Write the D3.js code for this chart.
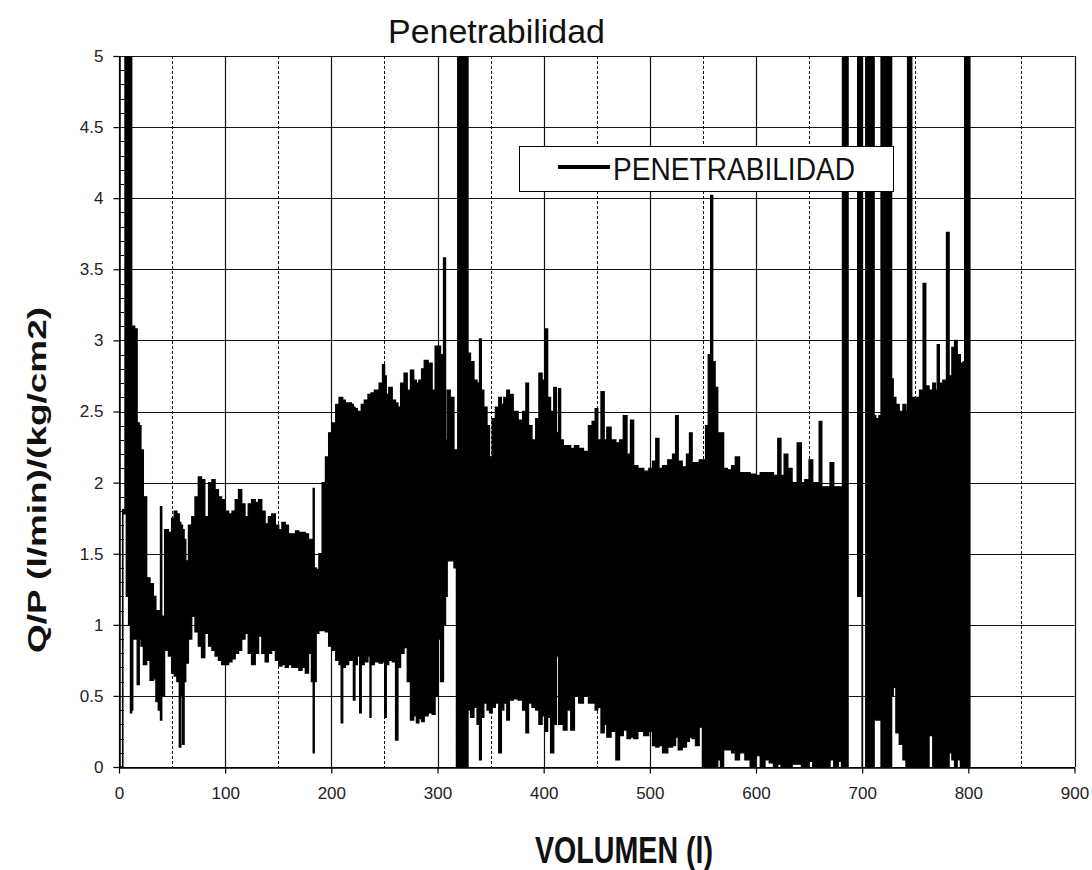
<!DOCTYPE html>
<html>
<head>
<meta charset="utf-8">
<script src="https://cdn.jsdelivr.net/npm/d3@7"></script>
<style>
  body { margin: 0; background: #fff; }
  svg { display: block; }
  text { font-family: "Liberation Sans", Arial, sans-serif; }
</style>
</head>
<body>
<svg id="chart" width="1092" height="870"></svg>
<script>
// ---------------- DATA (envelope of the dense trace) ----------------
const volumen = [
  0.5,3.2,3.5,3.9,5.5,5.7,8,10,11.5,12.5,
  13.5,16,18.2,20,21.4,24.5,27.7,30.8,34,35.5,
  38.5,39.6,41,44.9,48.1,51,53,56,57.5,59,
  60.7,62,63.8,67,70.1,73,76.4,79,82.7,86,
  89,92,95.3,98,101.6,105,107.9,111,114.2,117,
  120.4,123,126.7,130,133,136,139.3,142,145.6,149,
  151.9,155,158.2,161,164.5,168,170.8,174,177,180,
  182.5,183.3,184.5,187,189.6,193,195.9,199,202.2,206,
  208.5,210,211.5,214.8,
  217.9,220,221.5,223,226,227.4,229,233,236,236.8,
  238,243,247,249.4,251,252.5,255.7,259,262,263.5,
  267,270,273,276,279.2,281,284,286,289,293.4,
  296.5,299,301.3,304.4,306.9,308.3,310,314,317,318.6,
  319.5,328,329.5,332.7,336,338.5,340.6,342,345.3,348,
  350,353,356,359.4,361,364,366.5,369,373.6,378.3,
  382,384.5,387,391,394,397,400,402.5,405,408,
  411,
  413,415,417,420,424,427,431,435,440,444.3,
  447,450,452,456,458,461,466,470,473,477,
  480,483.5,486,491.5,497,501,504,507.2,510,514,
  519.8,523,525.5,528,533,536,538.7,541,545,548,
  551,554,556,558.5,560,563,565,568,571,575,
  579,582,587,592,597,602,606,611,614,619,
  622,625,628,632,636,641.5,644,648,651.9,655,
  658,661,663,668,671.5,675,680,681,
  681.8,686.5,687,695.5,696,699.8,700.1,700.4,703.2,703.5,
  711,711.6,714,717.5,718,727.5,728,730.5,733,736.8,
  740,742.5,743,746.5,747,752,756,758.8,761,765,
  768,770,771.4,774,778,780.8,783,786,788,791,
  794,796.3,796.7,801.5
];
const qpMax = [
  0,0,1.81,1.81,1.81,5.5,5.5,5.5,5.5,3.1,
  3.1,3.08,2.42,2.4,2.23,1.9,1.33,1.29,1.2,1.1,
  1.1,1.83,1.06,1.67,1.65,1.75,1.8,1.78,1.72,1.7,
  1.67,1.6,1.45,1.7,1.76,1.9,2.04,2.02,1.76,2.0,
  2.02,1.95,1.9,1.88,1.8,1.78,1.8,1.88,1.95,1.85,
  1.76,1.85,1.88,1.86,1.88,1.8,1.71,1.76,1.78,1.7,
  1.67,1.72,1.7,1.64,1.64,1.66,1.65,1.65,1.64,1.6,
  1.6,1.96,1.4,1.39,1.5,2.0,2.18,2.35,2.42,2.55,
  2.6,2.6,2.58,2.56,
  2.56,2.55,2.53,2.52,2.5,2.5,2.55,2.58,2.62,2.62,
  2.63,2.65,2.7,2.83,2.75,2.62,2.67,2.58,2.56,2.53,
  2.7,2.77,2.65,2.79,2.72,2.7,2.72,2.8,2.86,2.84,
  2.65,2.96,2.96,2.9,3.58,2.3,2.65,2.6,2.23,2.2,
  5.5,5.5,2.91,2.85,2.72,2.7,3.01,2.65,2.53,2.4,
  2.18,2.45,2.53,2.6,2.55,2.6,2.65,2.62,2.5,2.44,
  2.5,2.7,2.4,2.3,2.45,2.77,2.72,3.08,2.6,2.5,
  2.67,
  2.35,2.66,2.3,2.26,2.26,2.24,2.26,2.24,2.22,2.4,
  2.43,2.52,2.3,2.64,2.3,2.39,2.3,2.28,2.3,2.47,
  2.2,2.44,2.12,2.1,2.08,2.1,2.15,2.31,2.1,2.12,
  2.16,2.2,2.47,2.15,2.11,2.2,2.35,2.14,2.14,2.16,
  2.16,2.4,2.9,4.02,2.85,2.67,2.35,2.35,2.1,2.09,
  2.12,2.18,2.07,2.07,2.06,2.05,2.07,2.07,2.07,2.05,
  2.31,2.05,2.2,2.1,2.0,2.28,2.0,2.02,2.16,2.0,
  2.0,2.43,1.97,1.97,2.14,1.97,1.97,1.97,
  5.5,5.5,6,6,5.5,5.5,5.5,6,6,5.5,
  5.5,2.47,2.45,2.47,5.5,5.5,2.73,2.6,2.55,2.5,
  2.55,2.5,5.5,5.5,2.6,2.6,2.65,3.4,2.68,2.65,
  2.7,2.65,2.97,2.7,2.72,3.76,2.75,2.95,3.0,2.9,
  2.84,2.85,5.5,5.5
];
const qpMin = [
  0,0,0,1.78,1.78,1.8,1.2,1.0,0.38,0.4,
  0.9,0.9,0.58,0.9,0.85,0.72,0.75,0.61,0.62,0.46,
  0.4,0.33,0.5,0.82,0.78,0.66,0.64,0.6,0.14,0.5,
  0.16,0.6,0.73,0.9,1.06,0.95,0.85,0.77,0.94,0.85,
  0.82,0.78,0.75,0.72,0.72,0.74,0.76,0.8,0.82,0.9,
  0.94,0.8,0.72,0.8,0.92,0.8,0.74,0.8,0.82,0.75,
  0.71,0.72,0.7,0.72,0.7,0.7,0.68,0.7,0.66,0.8,
  0.6,0.1,0.6,0.94,0.96,0.96,0.95,0.85,0.82,0.75,
  0.72,0.31,0.7,0.72,
  0.75,0.75,0.47,0.72,0.78,0.38,0.72,0.74,0.78,0.35,
  0.72,0.74,0.73,0.74,0.35,0.72,0.75,0.74,0.19,0.7,
  0.8,0.84,0.6,0.33,0.36,0.31,0.34,0.32,0.36,0.38,
  0.37,0.5,0.9,0.6,1.0,1.2,1.45,1.45,1.4,0,
  0,0,0.4,0.35,0.42,0.3,0.05,0.35,0.45,0.4,
  0.38,0.42,0.45,0.1,0.4,0.45,0.33,0.47,0.48,0.47,
  0.4,0.24,0.45,0.42,0.4,0.3,0.36,0.25,0.35,0.1,
  0.3,
  0.78,0.3,0.3,0.26,0.4,0.26,0.5,0.45,0.5,0.45,
  0.45,0.4,0.42,0.24,0.3,0.21,0.25,0.05,0.22,0.26,
  0.2,0.21,0.2,0.25,0.22,0.25,0.15,0.14,0.15,0.1,
  0.14,0.15,0.21,0.12,0.14,0.18,0.21,0.2,0.15,0.28,
  0,0,0,0,0,0,0.05,0,0.12,0.12,
  0.1,0.05,0.1,0.05,0,0.08,0,0.05,0.03,0,
  0.02,0,0,0,0.02,0.02,0,0,0.04,0,
  0,0,0,0,0.05,0,0.04,0,
  0,0,6,6,1.2,1.2,0,6,6,0,
  0,0.34,0.33,0.33,0,0,0.5,0.56,0.24,0.16,
  0.05,0,0,0,0,0,0,0,0,0.22,
  0,0,0,0,0,0,0.1,0.05,0,0.05,
  0,0,0,0
];

const xTicks = [0,100,200,300,400,500,600,700,800,900];
const xHalfTicks = [50,150,250,350,450,550,650,750,850];
const yTicks = [0,0.5,1,1.5,2,2.5,3,3.5,4,4.5,5];
const yTickLabels = ["0","0.5","1","1.5","2","2.5","3","3.5","4","4.5","5"];
const titleText = "Penetrabilidad";
const seriesName = "PENETRABILIDAD";
const xTitle = "VOLUMEN (l)";
const yTitle = "Q/P  (l/min)/(kg/cm2)";

// ---------------- CHART ----------------
const svg = d3.select("#chart");
const x = d3.scaleLinear().domain([0, 900]).range([119, 1074.5]);
const y = d3.scaleLinear().domain([0, 5]).range([767, 56]);
const crisp = v => Math.round(v) + 0.5;

svg.append("rect").attr("width", 1092).attr("height", 870).attr("fill", "#fff");

// grid
const grid = svg.append("g");
grid.selectAll("line.h").data(yTicks).join("line")
  .attr("x1", x(0)).attr("x2", x(900))
  .attr("y1", d => crisp(y(d))).attr("y2", d => crisp(y(d)))
  .attr("stroke", "#111").attr("stroke-width", 1.2);
grid.selectAll("line.v").data(xTicks).join("line")
  .attr("x1", d => crisp(x(d))).attr("x2", d => crisp(x(d)))
  .attr("y1", y(5)).attr("y2", y(0))
  .attr("stroke", "#111").attr("stroke-width", 1.2);
grid.selectAll("line.d").data(xHalfTicks).join("line")
  .attr("x1", d => crisp(x(d))).attr("x2", d => crisp(x(d)))
  .attr("y1", y(5)).attr("y2", y(0))
  .attr("stroke", "#111").attr("stroke-width", 1).attr("stroke-dasharray", "3,2");

// data
svg.append("clipPath").attr("id", "plotclip").append("rect")
  .attr("x", x(0)).attr("y", y(5)).attr("width", x(900) - x(0)).attr("height", y(0) - y(5));

const idx = d3.range(volumen.length);
const area = d3.area()
  .x(i => x(volumen[i]))
  .y0(i => y(qpMin[i]))
  .y1(i => y(qpMax[i]))
  .curve(d3.curveStep);
svg.append("path")
  .attr("clip-path", "url(#plotclip)")
  .attr("d", area(idx))
  .attr("fill", "#000").attr("stroke", "#000").attr("stroke-width", 1.3)
  .attr("stroke-linejoin", "miter");

// axes
const yAxis = d3.axisLeft(y).tickValues(yTicks).tickSize(6).tickSizeOuter(0).tickPadding(10)
  .tickFormat((d, i) => yTickLabels[i]);
const gy = svg.append("g").attr("transform", `translate(${crisp(x(0))},0)`).call(yAxis);
const xAxis = d3.axisBottom(x).tickValues(xTicks).tickSize(6).tickSizeOuter(0).tickPadding(13)
  .tickFormat(d3.format("d"));
const gx = svg.append("g").attr("transform", `translate(0,${crisp(y(0))})`).call(xAxis);
[gx, gy].forEach(g => {
  g.select(".domain").attr("stroke", "#000").attr("stroke-width", 1.5);
  g.selectAll(".tick line").attr("stroke", "#000").attr("stroke-width", 1.2);
  g.selectAll("text").attr("font-size", 17).attr("fill", "#222")
    .attr("font-family", "'Liberation Sans', Arial, sans-serif");
});
// minor y ticks (inside)
const yMinor = d3.range(0.1, 5, 0.1).filter(v => Math.abs(v * 2 - Math.round(v * 2)) > 1e-6);
svg.append("g").selectAll("line").data(yMinor).join("line")
  .attr("x1", x(0)).attr("x2", x(0) + 5)
  .attr("y1", d => crisp(y(d))).attr("y2", d => crisp(y(d)))
  .attr("stroke", "#000").attr("stroke-width", 1);

// title
svg.append("text").attr("x", 388).attr("y", 43)
  .attr("font-size", 34).attr("fill", "#111")
  .attr("textLength", 217).attr("lengthAdjust", "spacingAndGlyphs")
  .text(titleText);

// axis titles
svg.append("text").attr("x", 535).attr("y", 863)
  .attr("font-size", 37).attr("font-weight", "bold").attr("fill", "#111")
  .attr("textLength", 178).attr("lengthAdjust", "spacingAndGlyphs")
  .text(xTitle);
svg.append("text").attr("transform", "translate(46,480) rotate(-90)")
  .attr("text-anchor", "middle")
  .attr("font-size", 25).attr("font-weight", "bold").attr("fill", "#111")
  .attr("textLength", 346).attr("lengthAdjust", "spacingAndGlyphs")
  .text(yTitle);

// legend
const lg = svg.append("g");
lg.append("rect").attr("x", 519.5).attr("y", 146.5).attr("width", 374).attr("height", 45)
  .attr("fill", "#fff").attr("stroke", "#000").attr("stroke-width", 1);
lg.append("line").attr("x1", 558).attr("x2", 610).attr("y1", 167).attr("y2", 167)
  .attr("stroke", "#000").attr("stroke-width", 4);
lg.append("text").attr("x", 613).attr("y", 180)
  .attr("font-size", 32).attr("fill", "#111")
  .attr("textLength", 242).attr("lengthAdjust", "spacingAndGlyphs")
  .text(seriesName);
</script>
</body>
</html>
